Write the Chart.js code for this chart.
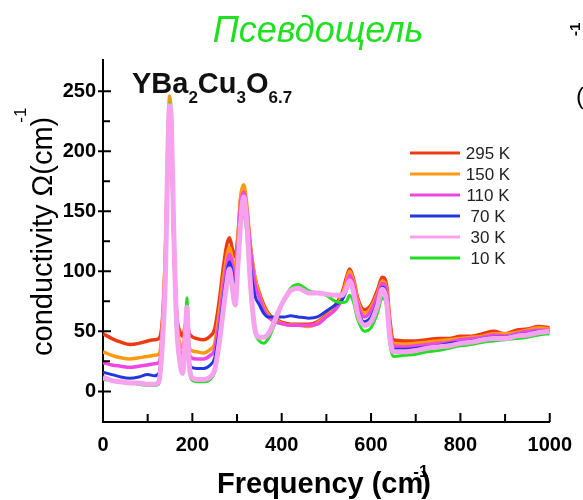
<!DOCTYPE html>
<html>
<head>
<meta charset="utf-8">
<script src="https://cdn.jsdelivr.net/npm/chart.js@4.4.0/dist/chart.umd.min.js"></script>
<style>
html, body { margin: 0; padding: 0; background: #fff; }
#wrap { width: 583px; height: 500px; position: relative; }
</style>
</head>
<body>
<div id="wrap"><canvas id="chart" width="583" height="500"></canvas></div>
<script>
// частоты (cm-1)
const freq = [0, 20, 40, 60, 80, 100, 115, 125, 133, 140, 145, 149, 153, 158, 165, 172,
    178, 184, 188, 192, 198, 210, 225, 240, 250, 260, 270, 277, 283, 290, 296, 302,
    308, 315, 322, 330, 340, 350, 360, 370, 380, 392, 405, 420, 437, 460, 480, 500,
    520, 535, 545, 552, 560, 570, 585, 600, 615, 625, 635, 642, 650, 675, 700, 725,
    750, 775, 800, 825, 850, 875, 900, 925, 950, 975, 1000];

// проводимость для каждой температуры
const s295 = [48, 44, 41, 39, 40, 42, 43, 44, 60, 120, 195, 232, 212, 130, 65, 50,
    46, 55, 62, 50, 46, 44, 43, 46, 52, 75, 105, 122, 128, 118, 112, 130,
    160, 168, 150, 120, 95, 82, 72, 65, 61, 59, 57, 56, 56, 56, 58, 64,
    72, 82, 95, 102, 95, 78, 68, 72, 85, 95, 88, 60, 43, 42, 42, 43,
    44, 44, 46, 46, 48, 50, 48, 51, 52, 54, 53];
const s150 = [33, 30, 28, 27, 28, 29, 30, 31, 55, 118, 205, 246, 225, 140, 60, 40,
    36, 50, 64, 40, 34, 33, 32, 35, 40, 65, 95, 112, 120, 110, 100, 128,
    162, 172, 155, 122, 95, 80, 70, 64, 60, 58, 56, 55, 55, 54, 57, 63,
    70, 80, 92, 100, 93, 76, 65, 70, 82, 92, 84, 55, 40, 39, 40, 41,
    42, 43, 44, 45, 46, 48, 48, 49, 51, 53, 52];
const s110 = [24, 22, 21, 20, 21, 22, 23, 24, 50, 110, 195, 238, 220, 135, 55, 33,
    30, 48, 65, 35, 28, 27, 27, 30, 35, 58, 88, 105, 114, 105, 90, 120,
    155, 166, 150, 118, 90, 78, 68, 62, 59, 57, 56, 55, 55, 55, 56, 62,
    68, 77, 88, 97, 90, 73, 62, 67, 80, 90, 82, 52, 38, 37, 38, 39,
    40, 41, 43, 44, 45, 47, 46, 48, 50, 51, 51];
const s70 = [16, 14, 12, 11, 12, 14, 13, 15, 45, 105, 195, 236, 215, 130, 50, 27,
    22, 45, 62, 30, 20, 19, 19, 22, 28, 50, 80, 98, 108, 98, 85, 115,
    145, 155, 140, 105, 80, 72, 65, 62, 62, 62, 62, 63, 62, 61, 62, 67,
    72, 76, 84, 92, 85, 68, 58, 62, 75, 87, 78, 48, 35, 35, 36, 37,
    38, 40, 41, 42, 44, 45, 45, 47, 48, 50, 50];
const s30 = [12, 9, 8, 7, 7, 6, 6, 8, 40, 100, 195, 238, 225, 140, 55, 25,
    15, 45, 70, 28, 12, 10, 10, 12, 18, 40, 70, 90, 102, 85, 72, 105,
    140, 162, 140, 90, 52, 45, 45, 48, 55, 66, 76, 84, 86, 82, 82, 81,
    80, 80, 86, 92, 84, 65, 55, 58, 72, 85, 74, 45, 33, 33, 34, 36,
    37, 38, 40, 41, 43, 44, 44, 46, 47, 49, 50];
const s10 = [10, 9, 8, 7, 6, 5, 5, 6, 38, 100, 195, 240, 220, 135, 50, 23,
    15, 50, 78, 25, 10, 8, 8, 10, 16, 38, 68, 88, 100, 85, 72, 102,
    135, 150, 130, 85, 50, 42, 40, 44, 52, 64, 76, 86, 89, 84, 82, 80,
    75, 74, 75, 80, 75, 60, 50, 53, 66, 78, 70, 40, 29, 30, 31, 33,
    34, 36, 38, 39, 41, 42, 43, 44, 45, 47, 48];

const seriesLabels = ['295 K', '150 K', '110 K', '70 K', '30 K', '10 K'];
const seriesValues = [s295, s150, s110, s70, s30, s10];

const xTicks = [0, 200, 400, 600, 800, 1000];
const xMinorTicks = [100, 300, 500, 700, 900];
const yTicks = [0, 50, 100, 150, 200, 250];
const yMinorTicks = [25, 75, 125, 175, 225];

const colors = ['#ee3a10', '#ff9a10', '#ee48e4', '#2238dd', '#f7a2ee', '#22dd22'];
const widths = [3.5, 3.5, 3.5, 3, 5, 3];
const drawOrder = [5, 4, 3, 2, 0, 1]; // розовая линия сверху

const FONT = "'Liberation Sans', Arial, sans-serif";

// подписи, легенда и засечки внутрь
const overlay = {
    id: 'overlay',
    afterDraw(chart) {
        const { ctx, scales: { x, y } } = chart;
        ctx.save();
        ctx.strokeStyle = '#000';
        ctx.lineWidth = 2;
        ctx.beginPath();
        const y0 = y.bottom;
        xTicks.forEach(v => { const px = x.getPixelForValue(v); ctx.moveTo(px, y0); ctx.lineTo(px, y0 - 9); });
        xMinorTicks.forEach(v => { const px = x.getPixelForValue(v); ctx.moveTo(px, y0); ctx.lineTo(px, y0 - 8); });
        const x0 = x.left;
        yTicks.forEach(v => { const py = y.getPixelForValue(v); ctx.moveTo(x0 - 5, py); ctx.lineTo(x0 + 8, py); });
        yMinorTicks.forEach(v => { const py = y.getPixelForValue(v); ctx.moveTo(x0, py); ctx.lineTo(x0 + 7, py); });
        ctx.stroke();

        // легенда
        ctx.textAlign = 'center';
        ctx.textBaseline = 'middle';
        ctx.font = '17px ' + FONT;
        seriesLabels.forEach((lab, i) => {
            const ry = 153 + i * 21;
            ctx.strokeStyle = colors[i];
            ctx.lineWidth = 3;
            ctx.beginPath();
            ctx.moveTo(410, ry);
            ctx.lineTo(460, ry);
            ctx.stroke();
            ctx.fillStyle = '#222';
            ctx.fillText(lab, 488, ry + 1);
        });

        // заголовок
        ctx.textBaseline = 'alphabetic';
        ctx.fillStyle = '#1fe01f';
        ctx.font = 'italic 36px ' + FONT;
        ctx.fillText('Псевдощель', 318, 42);

        // формула
        ctx.fillStyle = '#111';
        ctx.textAlign = 'left';
        let cx = 132;
        const parts = [['YBa', 0], ['2', 1], ['Cu', 0], ['3', 1], ['O', 0], ['6.7', 1]];
        parts.forEach(([t, sub]) => {
            ctx.font = sub ? 'bold 17px ' + FONT : 'bold 29px ' + FONT;
            ctx.fillText(t, cx, sub ? 103 : 93);
            cx += ctx.measureText(t).width;
        });

        // подпись оси X
        ctx.fillStyle = '#000';
        ctx.font = 'bold 29px ' + FONT;
        const xt = 'Frequency (cm';
        ctx.fillText(xt, 217, 493);
        const xw = ctx.measureText(xt).width;
        ctx.fillText(')', 217 + xw - 2, 493);
        ctx.font = 'bold 17px ' + FONT;
        ctx.fillText('-1', 217 + xw - 10, 477);

        // подпись оси Y
        ctx.save();
        ctx.translate(52, 356);
        ctx.rotate(-Math.PI / 2);
        ctx.font = '29px ' + FONT;
        const yt = 'conductivity Ω(cm)';
        ctx.fillText(yt, 0, 0);
        const yw = ctx.measureText(yt).width;
        ctx.font = '17px ' + FONT;
        ctx.fillText('-1', yw - 6, -26);
        ctx.restore();

        // обрезанные фрагменты соседнего рисунка
        ctx.save();
        ctx.translate(580, 36);
        ctx.rotate(-Math.PI / 2);
        ctx.font = 'bold 15px ' + FONT;
        ctx.fillText('-1', 0, 0);
        ctx.restore();
        ctx.font = '24px ' + FONT;
        ctx.fillText('(', 576, 104);
        ctx.restore();
    }
};

const ctx = document.getElementById('chart').getContext('2d');
new Chart(ctx, {
    type: 'line',
    data: {
        datasets: seriesValues.map((vals, i) => ({
            label: seriesLabels[i],
            data: freq.map((f, j) => ({ x: f, y: vals[j] })),
            borderColor: colors[i],
            borderWidth: widths[i],
            pointRadius: 0,
            cubicInterpolationMode: 'monotone',
            fill: false,
            order: drawOrder[i]
        }))
    },
    options: {
        responsive: false,
        animation: false,
        layout: { padding: { top: 60, right: 29, left: 0, bottom: 0 } },
        scales: {
            x: {
                type: 'linear', min: 0, max: 1000,
                afterBuildTicks: s => { s.ticks = xTicks.map(v => ({ value: v })); },
                afterFit: s => { s.height = 78; },
                grid: { display: false, drawTicks: false },
                border: { display: true, color: '#000', width: 2 },
                ticks: {
                    color: '#000', padding: 11, maxRotation: 0,
                    font: { family: FONT, size: 20, weight: 'bold' },
                    callback: v => String(v)
                }
            },
            y: {
                min: -25.5, max: 276,
                afterBuildTicks: s => { s.ticks = yTicks.map(v => ({ value: v })); },
                afterFit: s => { s.width = 103; },
                grid: { display: false, drawTicks: false },
                border: { display: true, color: '#000', width: 2 },
                ticks: { color: '#000', padding: 7, font: { family: FONT, size: 20, weight: 'bold' } }
            }
        },
        plugins: { legend: { display: false }, tooltip: { enabled: false } }
    },
    plugins: [overlay]
});
</script>
</body>
</html>
